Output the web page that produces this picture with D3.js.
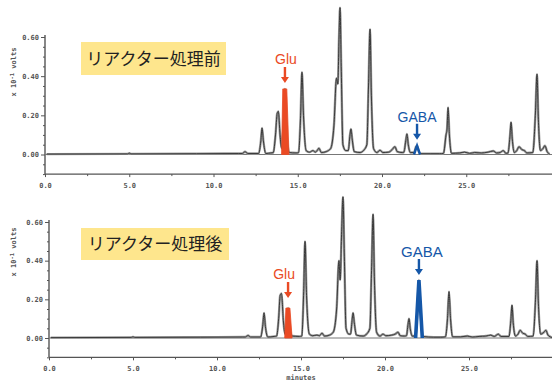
<!DOCTYPE html>
<html>
<head>
<meta charset="utf-8">
<script src="https://cdn.jsdelivr.net/npm/d3@7"></script>
<style>
  body { margin: 0; background: #fff; }
  svg { display: block; }
  .tick text { font-family: 'DejaVu Sans Mono', monospace; font-size: 7px; font-weight: bold; fill: #555; }
  .tick line { stroke: #555; }
  .axis-title { font-family: 'DejaVu Sans Mono', monospace; font-size: 7px; font-weight: bold; fill: #555; }
</style>
</head>
<body>
<svg id="chart" width="552" height="381"></svg>
<script>
// values (time in minutes, signal in x10^-1 volts)
const panelTitles = ['リアクター処理前', 'リアクター処理後'];
const xTickValues = [0, 5, 10, 15, 20, 25];
const xMinorTicks = [2.5, 7.5, 12.5, 17.5, 22.5, 27.5];
const yTickValues = [0, 0.2, 0.4, 0.6];
const yMinorTicks = [-0.1, -0.05, 0.05, 0.1, 0.15, 0.25, 0.3, 0.35, 0.45, 0.5, 0.55];

const traceBefore = [
  [0.1, 0.002], [4.9, 0.003], [5.0, 0.007], [5.1, 0.003], [9.0, 0.004], [11.5, 0.005],
  [11.7, 0.005], [11.87, 0.014], [12.05, 0.005],
  [12.68, 0.005], [12.81, 0.07], [12.88, 0.135], [12.96, 0.07], [13.1, 0.005],
  [13.4, 0.008],
  [13.55, 0.01], [13.68, 0.1], [13.78, 0.21], [13.85, 0.22], [13.95, 0.1], [14.05, 0.03],
  [14.12, 0.1], [14.24, 0.335], [14.36, 0.08], [14.5, 0.01],
  [14.9, 0.008],
  [15.05, 0.01], [15.17, 0.2], [15.25, 0.42], [15.34, 0.2], [15.5, 0.02],
  [15.7, 0.012], [15.9, 0.02], [16.05, 0.012], [16.15, 0.02], [16.26, 0.032], [16.4, 0.01], [16.7, 0.015],
  [16.95, 0.03], [17.15, 0.15], [17.3, 0.39], [17.38, 0.36], [17.45, 0.6], [17.51, 0.75], [17.58, 0.45], [17.68, 0.05], [17.85, 0.02],
  [18.0, 0.02], [18.1, 0.1], [18.16, 0.13], [18.23, 0.08], [18.35, 0.015],
  [18.7, 0.01], [18.9, 0.02],
  [19.1, 0.05], [19.2, 0.35], [19.29, 0.64], [19.37, 0.3], [19.5, 0.03],
  [19.7, 0.01], [19.88, 0.022], [20.05, 0.01], [20.4, 0.012], [20.6, 0.025], [20.77, 0.04], [20.9, 0.015], [21.2, 0.01],
  [21.3, 0.012], [21.41, 0.07], [21.48, 0.105], [21.56, 0.05], [21.68, 0.01],
  [21.9, 0.01], [22.02, 0.04], [22.08, 0.045], [22.16, 0.02], [22.3, 0.004],
  [22.9, 0.004], [23.4, 0.004],
  [23.65, 0.006], [23.8, 0.1], [23.86, 0.13], [23.92, 0.24], [24.0, 0.1], [24.12, 0.006],
  [24.6, 0.008], [24.9, 0.012], [25.2, 0.006], [25.5, 0.01], [25.9, 0.008], [26.3, 0.012], [26.6, 0.018], [26.8, 0.008], [27.0, 0.01], [27.2, 0.02], [27.35, 0.006],
  [27.48, 0.008], [27.59, 0.09], [27.66, 0.165], [27.73, 0.08], [27.85, 0.01],
  [28.0, 0.02], [28.13, 0.04], [28.3, 0.025], [28.45, 0.02], [28.6, 0.008],
  [28.95, 0.01], [29.1, 0.2], [29.2, 0.41], [29.28, 0.18], [29.4, 0.02],
  [29.55, 0.03], [29.67, 0.045], [29.8, 0.015], [29.95, 0.002],
];

const traceAfter = [
  [0.1, 0.002], [4.9, 0.003], [5.0, 0.006], [5.1, 0.003], [9.0, 0.004], [11.5, 0.005],
  [11.68, 0.005], [11.85, 0.013], [12.0, 0.005],
  [12.6, 0.005], [12.73, 0.07], [12.8, 0.13], [12.88, 0.06], [13.02, 0.005],
  [13.4, 0.008],
  [13.55, 0.01], [13.67, 0.1], [13.76, 0.22], [13.84, 0.23], [13.95, 0.09], [14.05, 0.02],
  [14.12, 0.05], [14.23, 0.155], [14.34, 0.05], [14.48, 0.01],
  [14.9, 0.008],
  [15.05, 0.01], [15.16, 0.24], [15.24, 0.5], [15.33, 0.22], [15.5, 0.02],
  [15.7, 0.012], [15.95, 0.015], [16.1, 0.012], [16.25, 0.025], [16.4, 0.01], [16.7, 0.015],
  [16.92, 0.03], [17.12, 0.15], [17.26, 0.4], [17.33, 0.3], [17.42, 0.55], [17.5, 0.73], [17.58, 0.42], [17.68, 0.05], [17.85, 0.02],
  [17.95, 0.02], [18.04, 0.09], [18.1, 0.13], [18.17, 0.08], [18.3, 0.015],
  [18.7, 0.01], [18.9, 0.02],
  [19.1, 0.05], [19.2, 0.35], [19.29, 0.64], [19.37, 0.3], [19.5, 0.03],
  [19.7, 0.01], [19.88, 0.02], [20.05, 0.012], [20.4, 0.015], [20.6, 0.02], [20.78, 0.03], [20.9, 0.012], [21.15, 0.01],
  [21.28, 0.012], [21.37, 0.07], [21.43, 0.1], [21.5, 0.05], [21.62, 0.01],
  [21.82, 0.01], [21.93, 0.15], [22.02, 0.3], [22.11, 0.14], [22.25, 0.008],
  [22.9, 0.004], [23.3, 0.004],
  [23.6, 0.006], [23.72, 0.1], [23.81, 0.24], [23.9, 0.1], [24.02, 0.006],
  [24.5, 0.006], [24.9, 0.01], [25.2, 0.005], [25.6, 0.008], [26.0, 0.01], [26.3, 0.015], [26.5, 0.008], [26.75, 0.02], [26.9, 0.008],
  [27.38, 0.008], [27.49, 0.09], [27.56, 0.17], [27.63, 0.08], [27.76, 0.01],
  [27.92, 0.02], [28.04, 0.04], [28.2, 0.025], [28.35, 0.02], [28.5, 0.008],
  [28.82, 0.01], [28.96, 0.2], [29.05, 0.4], [29.13, 0.18], [29.26, 0.02],
  [29.46, 0.03], [29.58, 0.04], [29.7, 0.015], [29.95, 0.002],
];

// highlighted peaks: Glu (red) and GABA (blue)
const gluPeaks = [{ t: 14.24, v: 0.335 }, { t: 14.23, v: 0.155 }];
const gabaPeaks = [{ t: 22.08, v: 0.045 }, { t: 22.02, v: 0.30 }];

const RED = '#ea4a24';
const BLUE = '#1557a8';

// layout of each panel (pixel placement only)
const panels = [
  {
    title: panelTitles[0], trace: traceBefore, glu: gluPeaks[0], gaba: gabaPeaks[0],
    xRange: [45, 550.5], yBase: 154.5, yTop: 37,
    box: { x: 81, y: 42, w: 145, h: 33 },
    gluGap: 6, gluDx: 1, gabaGap: 6, gabaDx: 0, gabaSize: 14, gabaStyle: 'caret',
    xLabelY: 186, yTitle: 72,
  },
  {
    title: panelTitles[1], trace: traceAfter, glu: gluPeaks[1], gaba: gabaPeaks[1],
    xRange: [49, 553], yBase: 338, yTop: 222,
    box: { x: 81, y: 228, w: 148, h: 32 },
    gluGap: 10, gluDx: -4, gabaGap: 5, gabaDx: 3, gabaSize: 15, gabaStyle: 'peak',
    xLabelY: 369, yTitle: 252, minutes: true,
  },
];

const svg = d3.select('#chart');

// small helper: down-pointing arrow polygon ending at (x, tip)
function arrowPath(x, tip, len) {
  const top = tip - len;
  const head = tip - 6;
  return `M${x - 1.2},${top}L${x + 1.2},${top}L${x + 1.2},${head}L${x + 4},${head}`
    + `L${x},${tip}L${x - 4},${head}L${x - 1.2},${head}Z`;
}

panels.forEach((p) => {
  const x = d3.scaleLinear().domain([0, 30]).range(p.xRange);
  const y = d3.scaleLinear().domain([0, 0.6]).range([p.yBase, p.yTop]);
  const g = svg.append('g');

  const x0 = x(0);
  const yBottom = y(-0.1);

  // y axis (major + minor ticks)
  g.append('g')
    .attr('transform', `translate(${x0},0)`)
    .call(d3.axisLeft(y).tickValues(yTickValues).tickFormat(d3.format('.2f')).tickSize(4).tickPadding(2))
    .call((a) => a.select('.domain').remove());
  g.append('g')
    .attr('transform', `translate(${x0},0)`)
    .call(d3.axisLeft(y).tickValues(yMinorTicks).tickFormat('').tickSize(2))
    .call((a) => a.select('.domain').remove());
  g.append('line')
    .attr('x1', x0).attr('x2', x0)
    .attr('y1', y(0.6) - 2).attr('y2', yBottom)
    .attr('stroke', '#555').attr('stroke-width', 1.4);

  // x axis
  const xAxis = g.append('g')
    .attr('transform', `translate(0,${yBottom})`)
    .call(d3.axisBottom(x).tickValues(xTickValues).tickFormat(d3.format('.1f')).tickSize(3).tickPadding(4));
  xAxis.select('.domain').remove();
  xAxis.selectAll('.tick text').attr('y', p.xLabelY - yBottom - 3);
  g.append('g')
    .attr('transform', `translate(0,${yBottom})`)
    .call(d3.axisBottom(x).tickValues(xMinorTicks).tickFormat('').tickSize(2))
    .call((a) => a.select('.domain').remove());
  g.append('line')
    .attr('x1', x0).attr('x2', 552)
    .attr('y1', yBottom).attr('y2', yBottom)
    .attr('stroke', '#555').attr('stroke-width', 1.4);

  // zero baseline
  g.append('line')
    .attr('x1', x0).attr('x2', 552)
    .attr('y1', y(0)).attr('y2', y(0))
    .attr('stroke', '#777').attr('stroke-width', 1);

  // y axis title
  const yt = g.append('text')
    .attr('class', 'axis-title')
    .attr('transform', `translate(16,${p.yTitle}) rotate(-90)`)
    .attr('text-anchor', 'middle');
  yt.append('tspan').text('x 10');
  yt.append('tspan').attr('dy', -2.5).attr('font-size', '5.5px').text('-1');
  yt.append('tspan').attr('dy', 2.5).text(' volts');

  if (p.minutes) {
    g.append('text')
      .attr('class', 'axis-title')
      .attr('x', x(15)).attr('y', 380)
      .attr('text-anchor', 'middle')
      .text('minutes');
  }

  // chromatogram trace: soft halo + dark core to mimic the scanned plot
  const line = d3.line()
    .x((d) => x(d[0]))
    .y((d) => y(d[1]))
    .curve(d3.curveMonotoneX);
  g.append('path')
    .datum(p.trace)
    .attr('d', line)
    .attr('fill', 'none')
    .attr('stroke', '#9a9a9a')
    .attr('stroke-width', 2.4)
    .attr('stroke-linejoin', 'round');
  g.append('path')
    .datum(p.trace)
    .attr('d', line)
    .attr('fill', 'none')
    .attr('stroke', '#3a3a3a')
    .attr('stroke-width', 1)
    .attr('stroke-linejoin', 'round');

  // Glu highlight
  const gl = p.glu;
  const gluPoly = [[gl.t - 0.13, gl.v], [gl.t + 0.11, gl.v], [gl.t + 0.24, 0], [gl.t - 0.2, 0]];
  g.append('path')
    .attr('d', `M${gluPoly.map((d) => `${x(d[0])},${y(d[1])}`).join('L')}Z`)
    .attr('fill', RED)
    .attr('stroke', RED)
    .attr('stroke-width', 0.8);
  const gluTip = y(gl.v) - p.gluGap;
  g.append('path').attr('d', arrowPath(x(gl.t), gluTip, 16)).attr('fill', RED);
  g.append('text')
    .attr('x', x(gl.t) + p.gluDx)
    .attr('y', gluTip - 19)
    .attr('text-anchor', 'middle')
    .attr('font-family', 'Liberation Sans, Arial, sans-serif')
    .attr('font-size', '14px')
    .attr('fill', RED)
    .text('Glu');

  // GABA highlight
  const ga = p.gaba;
  if (p.gabaStyle === 'caret') {
    g.append('path')
      .attr('d', d3.line()([[x(ga.t - 0.18), y(0.0)], [x(ga.t), y(ga.v)], [x(ga.t + 0.18), y(0.0)]]))
      .attr('fill', 'none')
      .attr('stroke', BLUE)
      .attr('stroke-width', 2.4);
  } else {
    g.append('path')
      .attr('d', d3.line()([[x(ga.t - 0.2), y(0)], [x(ga.t), y(ga.v)], [x(ga.t + 0.2), y(0)]]))
      .attr('fill', 'none')
      .attr('stroke', BLUE)
      .attr('stroke-width', 3.6)
      .attr('stroke-linejoin', 'miter');
  }
  const gabaTip = y(ga.v) - p.gabaGap;
  g.append('path').attr('d', arrowPath(x(ga.t), gabaTip, 16)).attr('fill', BLUE);
  g.append('text')
    .attr('x', x(ga.t) + p.gabaDx)
    .attr('y', gabaTip - 18)
    .attr('text-anchor', 'middle')
    .attr('font-family', 'Liberation Sans, Arial, sans-serif')
    .attr('font-size', `${p.gabaSize}px`)
    .attr('fill', BLUE)
    .text('GABA');

  // title box
  g.append('rect')
    .attr('x', p.box.x).attr('y', p.box.y)
    .attr('width', p.box.w).attr('height', p.box.h)
    .attr('fill', '#fee68d');
  g.append('text')
    .attr('x', p.box.x + p.box.w / 2)
    .attr('y', p.box.y + p.box.h / 2)
    .attr('dy', '0.36em')
    .attr('text-anchor', 'middle')
    .attr('font-family', 'Noto Sans CJK JP, sans-serif')
    .attr('font-size', '17px')
    .attr('fill', '#222')
    .text(p.title);
});
</script>
</body>
</html>
